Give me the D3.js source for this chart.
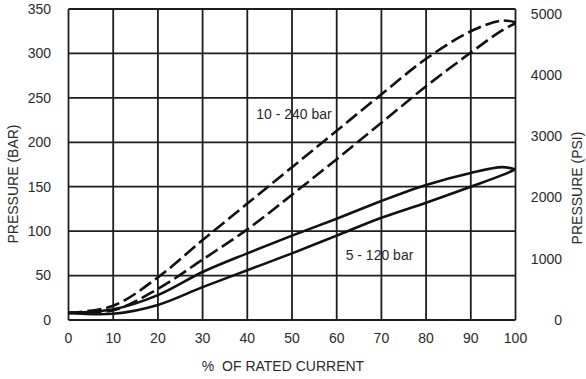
<!DOCTYPE html>
<html><head><meta charset="utf-8">
<script src="https://cdn.jsdelivr.net/npm/d3@7"></script>
<style>body{margin:0;background:#fff}svg{display:block}text{font-family:"Liberation Sans",Arial,sans-serif;fill:#2a2a2a}</style>
</head><body><div id="chart"></div>
<script>
const currentPct = [0, 10, 20, 30, 40, 50, 60, 70, 80, 90, 97, 100];
const hi240Up   = [8, 16, 48, 90, 131, 172, 213, 254, 294, 325, 337, 335];
const hi240Down = [8, 11, 35, 68, 102, 141, 181, 222, 263, 301, 326, 334];
const lo120Up   = [8, 12, 28, 54, 75, 95, 114, 134, 152, 165.5, 172, 169.5];
const lo120Down = [8, 7, 17, 37, 56, 75, 95, 115, 132, 150, 163, 169.5];
const xTicks = [0,10,20,30,40,50,60,70,80,90,100];
const barTicks = [0,50,100,150,200,250,300,350];
const psiTicks = [0,1000,2000,3000,4000,5000];
const PSI_PER_BAR = 14.5038;

const W = 586, H = 379;
const m = {left:68.5, right:515.5, top:9, bottom:320};
const svg = d3.select("#chart").append("svg").attr("width",W).attr("height",H);
const x = d3.scaleLinear().domain([0,100]).range([m.left,m.right]);
const y = d3.scaleLinear().domain([0,350]).range([m.bottom,m.top]);
const yPsi = d3.scaleLinear().domain([0,350*PSI_PER_BAR]).range([m.bottom,m.top]);

const grid = svg.append("g").attr("stroke","#1e1e1e").attr("stroke-width",1.8);
grid.selectAll("line.v").data(xTicks).join("line")
  .attr("x1",d=>x(d)).attr("x2",d=>x(d)).attr("y1",m.top).attr("y2",m.bottom);
grid.selectAll("line.h").data(barTicks).join("line")
  .attr("x1",m.left).attr("x2",m.right).attr("y1",d=>y(d)).attr("y2",d=>y(d));

const fs = "14px";
svg.append("g").selectAll("text").data(xTicks).join("text")
  .attr("x",d=>x(d)).attr("y",343).attr("text-anchor","middle").style("font-size",fs).text(d=>d);
svg.append("g").selectAll("text").data(barTicks).join("text")
  .attr("x",51).attr("y",d=>y(d)).attr("dy","0.35em").attr("text-anchor","end").style("font-size",fs).text(d=>d);
svg.append("g").selectAll("text").data(psiTicks).join("text")
  .attr("x",562).attr("y",d=>yPsi(d)).attr("dy","0.35em").attr("text-anchor","end").style("font-size",fs).text(d=>d);

svg.append("text").attr("x",283).attr("y",371).attr("text-anchor","middle").style("font-size",fs)
  .style("white-space","pre").text("%  OF RATED CURRENT");
svg.append("text").attr("transform","translate(18,184) rotate(-90)").attr("text-anchor","middle").style("font-size",fs).text("PRESSURE (BAR)");
svg.append("text").attr("transform","translate(582,188) rotate(-90)").attr("text-anchor","middle").style("font-size",fs).text("PRESSURE (PSI)");

const line = d3.line().x((d,i)=>x(currentPct[i])).y(d=>y(d)).curve(d3.curveCatmullRom.alpha(0.5));
const curves = [
  {v:hi240Up, dash:"14,5"},
  {v:hi240Down, dash:"14,5"},
  {v:lo120Up, dash:null},
  {v:lo120Down, dash:null}
];
svg.append("g").selectAll("path").data(curves).join("path")
  .attr("d",d=>line(d.v)).attr("fill","none").attr("stroke","#111").attr("stroke-width",2.6)
  .attr("stroke-dasharray",d=>d.dash);

svg.append("text").attr("x",x(42)).attr("y",y(232)).attr("dy","0.35em").style("font-size",fs).text("10 - 240 bar");
svg.append("text").attr("x",x(62)).attr("y",y(73)).attr("dy","0.35em").style("font-size",fs).text("5 - 120 bar");
</script></body></html>
